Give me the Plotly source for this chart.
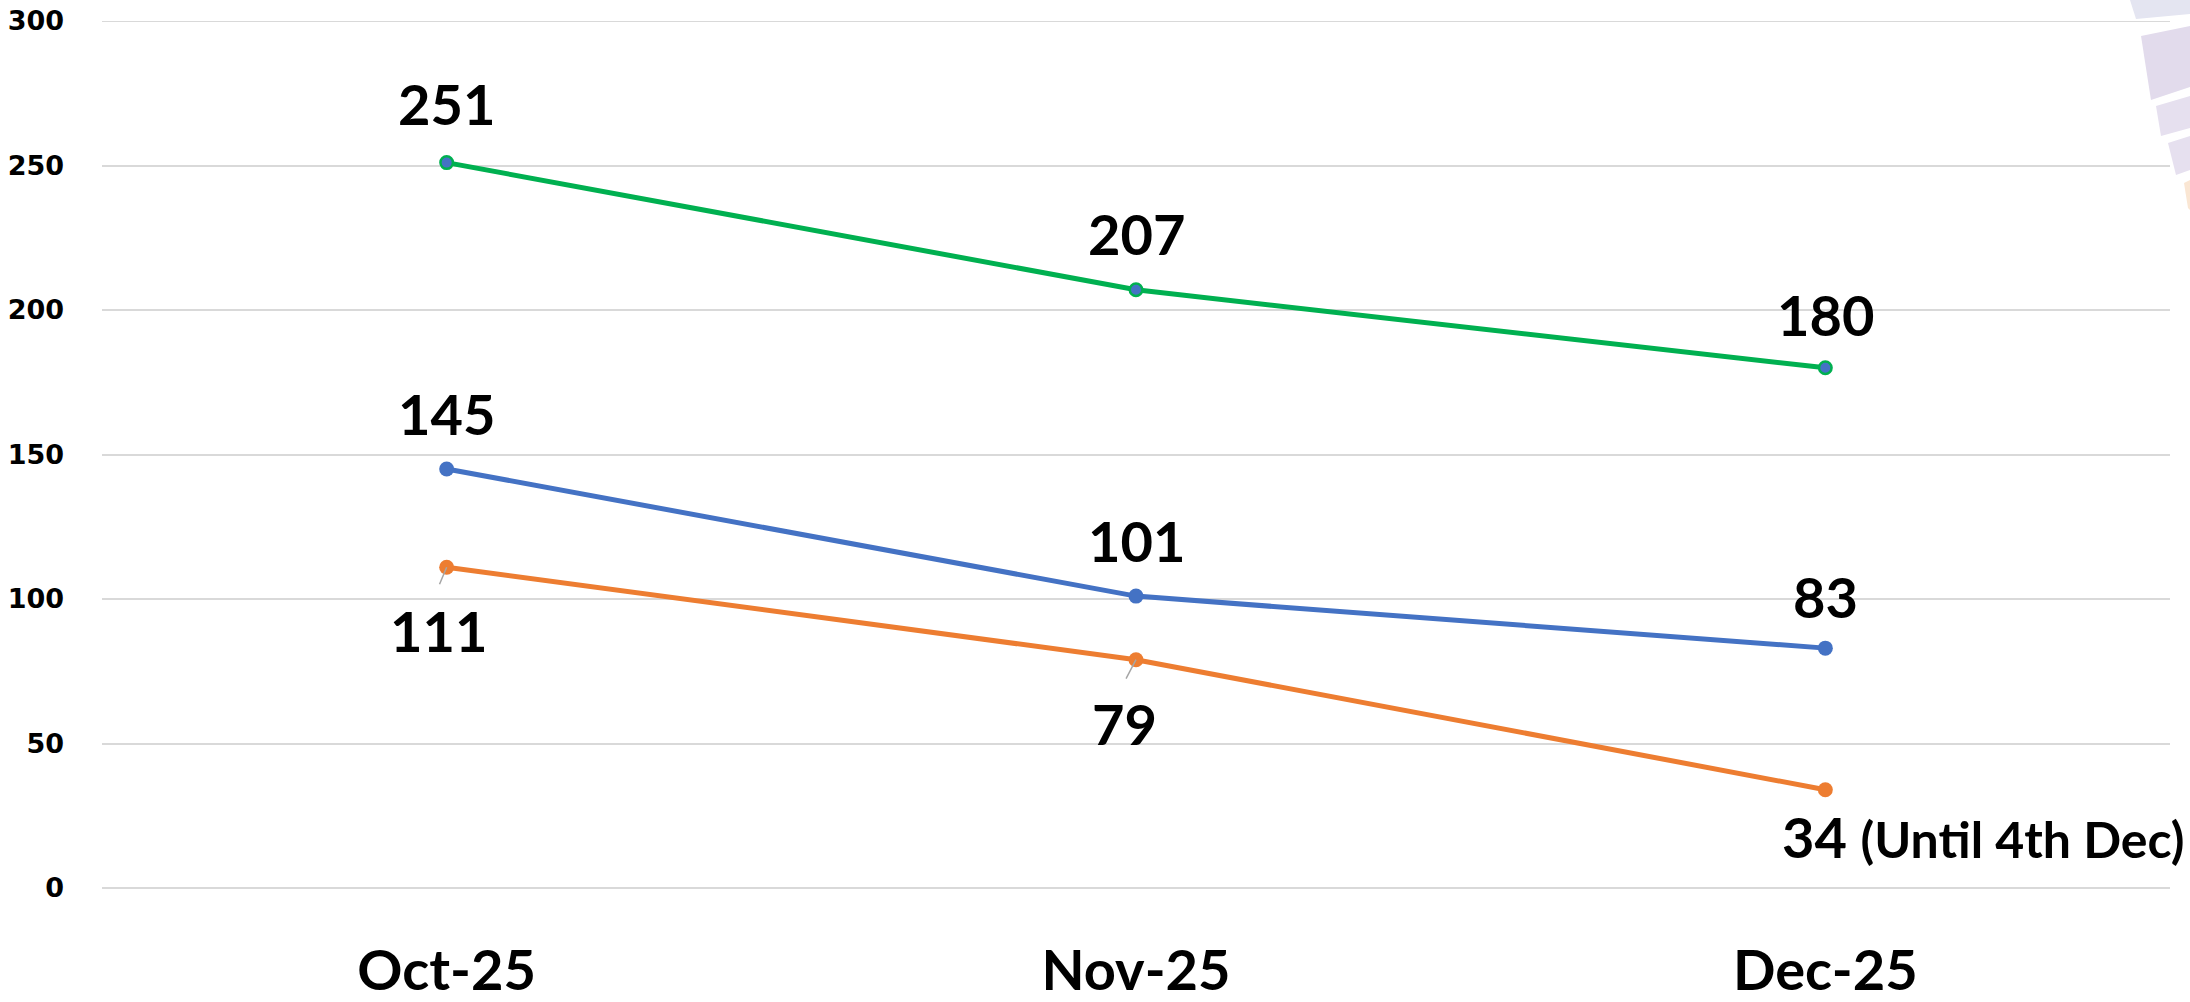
import plotly.graph_objects as go

categories = ["Oct-25", "Nov-25", "Dec-25"]
green_vals = [251, 207, 180]
blue_vals = [145, 101, 83]
orange_vals = [111, 79, 34]
y_ticks = [0, 50, 100, 150, 200, 250, 300]
dec_note = "(Until 4th Dec)"

GREEN = "#00B050"
BLUE = "#4472C4"
ORANGE = "#ED7D31"
GRID = "#D9D9D9"

W, H = 2190, 1002
ML, MR, MT, MB = 102, 20, 21, 114
PW, PH = W - ML - MR, H - MT - MB

fig = go.Figure()

fig.add_trace(go.Scatter(x=categories, y=orange_vals, mode="lines+markers",
                         line=dict(color=ORANGE, width=5),
                         marker=dict(color=ORANGE, size=15), showlegend=False))
fig.add_trace(go.Scatter(x=categories, y=blue_vals, mode="lines+markers",
                         line=dict(color=BLUE, width=5),
                         marker=dict(color=BLUE, size=15), showlegend=False))
fig.add_trace(go.Scatter(x=categories, y=green_vals, mode="lines+markers",
                         line=dict(color=GREEN, width=5),
                         marker=dict(color=BLUE, size=12.5, line=dict(color=GREEN, width=2.5)),
                         showlegend=False))

LBL = dict(family="Lato", size=56, color="black", weight="bold")

green_shift = [59, 56, 53]
blue_shift = [55, 56, 52]
annotations = []
for c, v, s in zip(categories, green_vals, green_shift):
    annotations.append(dict(x=c, y=v, text=str(v), showarrow=False, yshift=s,
                            xanchor="center", yanchor="middle", font=LBL))
for c, v, s in zip(categories, blue_vals, blue_shift):
    annotations.append(dict(x=c, y=v, text=str(v), showarrow=False, yshift=s,
                            xanchor="center", yanchor="middle", font=LBL))
orange_shift = [(-8, -63), (-12, -64)]
leader = [(-8, 19), (-11, 21)]
for i in range(2):
    c, v = categories[i], orange_vals[i]
    annotations.append(dict(x=c, y=v, text=str(v), showarrow=False,
                            xshift=orange_shift[i][0], yshift=orange_shift[i][1],
                            xanchor="center", yanchor="middle", font=LBL))
    annotations.append(dict(x=c, y=v, text=" ", showarrow=True, arrowhead=0,
                            arrowwidth=1.5, arrowcolor="#A6A6A6",
                            ax=leader[i][0], ay=leader[i][1], font=dict(size=1)))
annotations.append(dict(x=categories[2], y=orange_vals[2],
                        text=f"{orange_vals[2]} <span style='font-size:50px'>{dec_note}</span>",
                        showarrow=False, xanchor="left", yanchor="middle",
                        xshift=-45, yshift=-47, font=LBL))

# faint decorative graphic in the top-right corner
def pp(x, y):
    return (x - ML) / PW, (H - MB - y) / PH

pieces = [
    ([(2130, 0), (2190, 0), (2190, 14), (2136, 19)], "#E4E5F1"),
    ([(2141, 36), (2190, 26), (2190, 87), (2151, 100)], "#E2DBEC"),
    ([(2156, 106), (2190, 96), (2190, 128), (2161, 136)], "#E6E0EF"),
    ([(2168, 143), (2190, 136), (2190, 170), (2176, 175)], "#E6E0EF"),
    ([(2184, 183), (2190, 180), (2190, 210), (2188, 208)], "#FAE6D3"),
]
shapes = []
for pts, col in pieces:
    path = ""
    for k, (x, y) in enumerate(pts):
        px, py = pp(x, y)
        path += ("M" if k == 0 else "L") + f"{px:.5f},{py:.5f} "
    path += "Z"
    shapes.append(dict(type="path", path=path, xref="paper", yref="paper",
                       fillcolor=col, line=dict(width=0), layer="below"))
# top gridline (plotly skips the grid line sitting on the range edge)
shapes.append(dict(type="line", xref="paper", yref="y", x0=0, x1=1,
                   y0=y_ticks[-1], y1=y_ticks[-1], line=dict(color=GRID, width=2),
                   layer="below"))

fig.update_layout(
    width=W, height=H,
    margin=dict(l=ML, r=MR, t=MT, b=MB, autoexpand=False),
    paper_bgcolor="white", plot_bgcolor="white",
    annotations=annotations, shapes=shapes,
    xaxis=dict(type="category", range=[-0.5, 2.5], showgrid=False, showline=False,
               zeroline=False, ticks="", ticklabelstandoff=45, automargin=False,
               tickfont=dict(family="Lato", size=56, color="black", weight="bold")),
    yaxis=dict(range=[0, 300], tickvals=y_ticks, showgrid=True, gridcolor=GRID,
               gridwidth=2, zeroline=True, zerolinecolor=GRID, zerolinewidth=2,
               showline=False, ticks="", ticklabelstandoff=37, automargin=False,
               tickfont=dict(family="DejaVu Sans", size=27, color="black", weight="bold")),
)

fig.write_html("out.html", config={"displayModeBar": False},
               post_script="document.body.style.margin='0';document.body.style.overflow='hidden';")
